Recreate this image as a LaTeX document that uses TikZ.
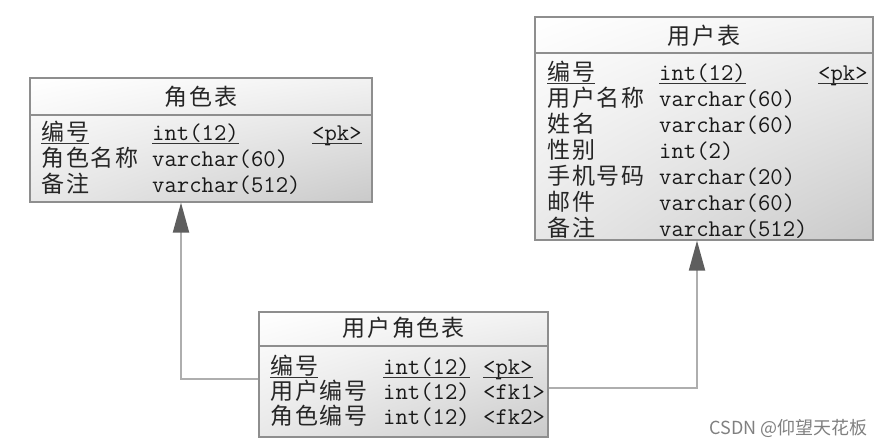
\documentclass[tikz,border=0pt]{standalone}
\usepackage{fontspec}
\usetikzlibrary{arrows.meta,shadings}
\newfontfamily\cjk[LetterSpace=8]{Noto Sans CJK SC}
\newfontfamily\wmfont{Noto Sans CJK SC}
\definecolor{boxgray}{HTML}{8E8E8E}
\definecolor{linegray}{HTML}{AEAEAE}
\definecolor{headgray}{HTML}{5E5E5E}
\tikzset{
  tbl/.style={draw=boxgray, line width=1.2pt, rectangle, inner sep=0pt,
    upper left=white, upper right=black!5, lower left=black!9, lower right=black!21},
  sep/.style={draw=boxgray, line width=1.2pt},
  ttl/.style={inner sep=0pt, anchor=center, font=\cjk\fontsize{23}{23}\selectfont, text=black!85},
  cn/.style={inner sep=0pt, anchor=base west, font=\cjk\fontsize{23}{23}\selectfont, text=black!85},
  mn/.style={inner sep=0pt, anchor=base west, font=\ttfamily\fontsize{24}{24}\selectfont, text=black!90},
  uline/.style={draw=black!80, line width=1pt},
  conn/.style={draw=linegray, line width=2pt,
    -{Triangle[length=30pt,width=16pt,color=headgray]}},
}
\begin{document}
\begin{tikzpicture}[x=1pt,y=-1pt]
\useasboundingbox (0,0) rectangle (886,447);
% ---------- 角色表 ----------
\node[tbl, minimum width=342pt, minimum height=124pt] (rt) at (201,140) {};
\draw[sep] (rt.west |- 0,115) -- (rt.east |- 0,115);
\node[ttl] (rtT) at (201,97) {角色表};
\node[cn] (rt1a) at (41,140) {编号};
\node[mn] (rt1b) at (152,140) {int(12)};
\node[mn] (rt1c) at (312,140) {<pk>};
\node[cn] (rt2a) at (41,166) {角色名称};
\node[mn] (rt2b) at (152,166) {varchar(60)};
\node[cn] (rt3a) at (41,192) {备注};
\node[mn] (rt3b) at (152,192) {varchar(512)};
\draw[uline] ([yshift=-3pt]rt1a.base west) -- ([yshift=-3pt]rt1a.base east);
\draw[uline] ([yshift=-3pt]rt1b.base west) -- ([yshift=-3pt]rt1b.base east);
\draw[uline] ([yshift=-3pt]rt1c.base west) -- ([yshift=-3pt]rt1c.base east);
% ---------- 用户表 ----------
\node[tbl, minimum width=338pt, minimum height=223pt] (ut) at (704,128.5) {};
\draw[sep] (ut.west |- 0,53) -- (ut.east |- 0,53);
\node[ttl] (utT) at (704,36) {用户表};
\node[cn] (ut1a) at (547,80) {编号};
\node[mn] (ut1b) at (659,80) {int(12)};
\node[mn] (ut1c) at (818,80) {<pk>};
\node[cn] (ut2a) at (547,106) {用户名称};
\node[mn] (ut2b) at (659,106) {varchar(60)};
\node[cn] (ut3a) at (547,132) {姓名};
\node[mn] (ut3b) at (659,132) {varchar(60)};
\node[cn] (ut4a) at (547,158) {性别};
\node[mn] (ut4b) at (659,158) {int(2)};
\node[cn] (ut5a) at (547,184) {手机号码};
\node[mn] (ut5b) at (659,184) {varchar(20)};
\node[cn] (ut6a) at (547,210) {邮件};
\node[mn] (ut6b) at (659,210) {varchar(60)};
\node[cn] (ut7a) at (547,236) {备注};
\node[mn] (ut7b) at (659,236) {varchar(512)};
\draw[uline] ([yshift=-3pt]ut1a.base west) -- ([yshift=-3pt]ut1a.base east);
\draw[uline] ([yshift=-3pt]ut1b.base west) -- ([yshift=-3pt]ut1b.base east);
\draw[uline] ([yshift=-3pt]ut1c.base west) -- ([yshift=-3pt]ut1c.base east);
% ---------- 用户角色表 ----------
\node[tbl, minimum width=289pt, minimum height=125pt] (urt) at (403.5,374.5) {};
\draw[sep] (urt.west |- 0,346) -- (urt.east |- 0,346);
\node[ttl] (urtT) at (403.5,328) {用户角色表};
\node[cn] (urt1a) at (270,374) {编号};
\node[mn] (urt1b) at (383,374) {int(12)};
\node[mn] (urt1c) at (483,374) {<pk>};
\node[cn] (urt2a) at (270,399) {用户编号};
\node[mn] (urt2b) at (383,399) {int(12)};
\node[mn] (urt2c) at (483,399) {<fk1>};
\node[cn] (urt3a) at (270,424) {角色编号};
\node[mn] (urt3b) at (383,424) {int(12)};
\node[mn] (urt3c) at (483,424) {<fk2>};
\draw[uline] ([yshift=-3pt]urt1a.base west) -- ([yshift=-3pt]urt1a.base east);
\draw[uline] ([yshift=-3pt]urt1b.base west) -- ([yshift=-3pt]urt1b.base east);
\draw[uline] ([yshift=-3pt]urt1c.base west) -- ([yshift=-3pt]urt1c.base east);
% ---------- connectors ----------
\coordinate (c1) at (181,379);
\coordinate (c2) at (697,388);
\draw[conn] (urt.west |- c1) -- (c1) -- (c1 |- rt.south);
\draw[conn] (urt.east |- c2) -- (c2) -- (c2 |- ut.south);
% ---------- watermark ----------
\node[inner sep=0pt, anchor=east, font=\wmfont\fontsize{18}{18}\selectfont, text=black!50] (wm) at (868,428) {CSDN @仰望天花板};
\end{tikzpicture}
\end{document}
